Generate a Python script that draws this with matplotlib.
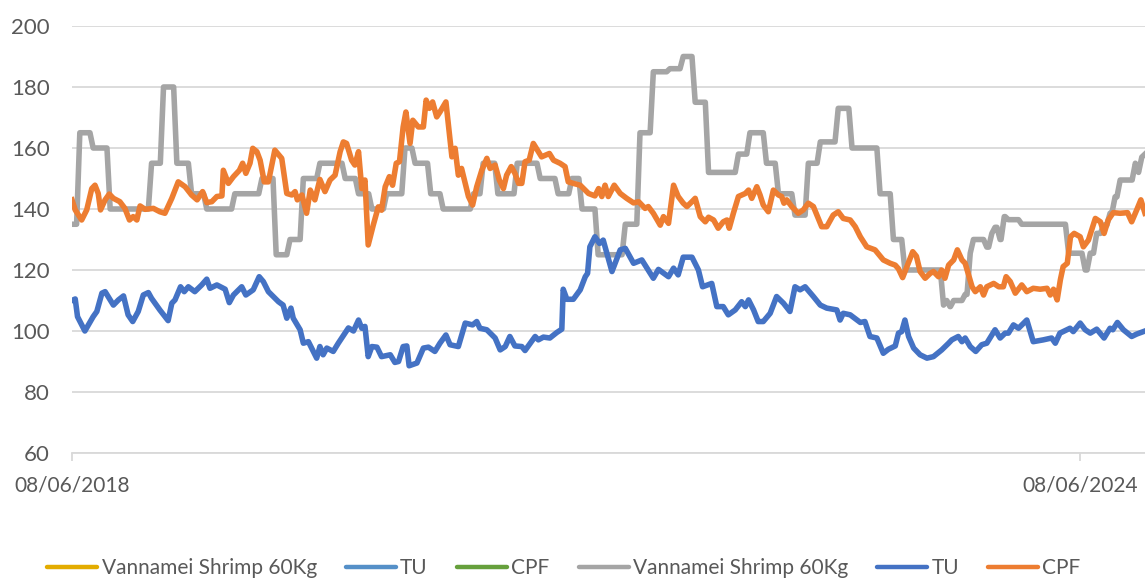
import matplotlib
matplotlib.use("Agg")
import matplotlib.pyplot as plt
from matplotlib.lines import Line2D
import pandas as pd
import numpy as np

plt.rcParams['font.family'] = ['Lato', 'DejaVu Sans']

start_date = '2018-06-08'
tick_days = [0, 2192]
tick_labels = ['08/06/2018', '08/06/2024']
y_ticks = [60, 80, 100, 120, 140, 160, 180, 200]

# Vannamei Shrimp 60Kg (step changes: day offset, value)
shrimp_day = [0, 17, 46, 83, 173, 199, 228, 260, 293, 354,
              413, 444, 474, 503, 539, 594, 623, 652, 684, 724,
              746, 780, 807, 873, 894, 926, 968, 1018, 1057, 1087,
              1109, 1144, 1203, 1235, 1264, 1300, 1329, 1355, 1384, 1449,
              1474, 1510, 1536, 1572, 1601, 1627, 1666, 1696, 1757, 1786,
              1811, 1895, 1902, 1909, 1917, 1942, 1953, 1960, 1989, 2000,
              2007, 2018, 2027, 2036, 2065, 2167, 2203, 2214, 2228, 2243,
              2257, 2268, 2279, 2312, 2319, 2326, 2333]
shrimp_val = [135, 165, 160, 140, 155, 180, 155, 145, 140, 145,
              150, 125, 130, 150, 155, 150, 145, 140, 145, 160,
              155, 145, 140, 145, 155, 145, 155, 150, 145, 150,
              140, 125, 135, 165, 185, 186, 190, 175, 152, 158,
              165, 155, 145, 138, 155, 162, 173, 160, 145, 130,
              120, 108.5, 110, 108, 110, 112, 125.5, 130, 127.5, 132,
              134, 130, 137.5, 136.5, 135, 125.5, 120, 125.5, 132, 134.7,
              138.6, 144, 149.5, 155, 152, 157, 158]

# TU
tu_day = [0, 7, 12, 28, 46, 54, 65, 72, 90, 101, 112, 122, 132, 144, 155, 166, 173,
          191, 209, 217, 224, 236, 244, 253, 267, 282, 293, 300, 315, 333, 342, 351,
          369, 378, 394, 407, 416, 427, 449, 459, 467, 476, 481, 496, 503, 514, 532,
          539, 546, 554, 568, 579, 590, 601, 612, 623, 630, 637, 644, 652, 663, 673,
          692, 702, 710, 720, 728, 733, 750, 764, 775, 789, 800, 813, 822, 840, 855,
          871, 880, 887, 902, 920, 931, 942, 952, 963, 978, 985, 1007, 1014, 1025,
          1039, 1054, 1065, 1068, 1076, 1090, 1105, 1116, 1121, 1126, 1134, 1137,
          1147, 1155, 1174, 1192, 1203, 1221, 1239, 1264, 1275, 1297, 1308, 1318,
          1329, 1348, 1362, 1371, 1391, 1402, 1416, 1427, 1442, 1456, 1464, 1471,
          1482, 1492, 1503, 1518, 1532, 1547, 1561, 1572, 1583, 1594, 1612, 1627,
          1641, 1663, 1670, 1677, 1692, 1714, 1724, 1735, 1750, 1764, 1775, 1790,
          1797, 1804, 1811, 1819, 1830, 1844, 1859, 1873, 1891, 1906, 1913, 1927,
          1935, 1942, 1953, 1965, 1978, 1989, 2007, 2018, 2029, 2036, 2047, 2058,
          2076, 2090, 2112, 2130, 2138, 2148, 2170, 2177, 2192, 2203, 2214, 2228,
          2244, 2257, 2263, 2273, 2286, 2304, 2315, 2333]
tu_val = [110, 110.5, 104.7, 100, 104.7, 106.4, 112.4, 112.9, 108.5, 110.2, 111.5, 105.3,
          103.1, 106.4, 111.8, 112.6, 110.7, 106.9, 103.4, 109.1, 110.2, 114.5, 112.9,
          114.5, 112.9, 115.1, 117, 114, 115.1, 113.7, 109.3, 111.8, 114.5, 111.8, 113.5,
          117.8, 116.2, 112.9, 109.6, 108.5, 104.2, 107.5, 104.2, 100.4, 96, 96.5, 91.1,
          94.9, 92.2, 94.4, 93.3, 96, 98.5, 101, 100, 103.6, 100.9, 101.5, 91.6, 94.9,
          94.7, 91.6, 92.2, 89.7, 90, 94.9, 95.1, 88.6, 89.5, 94.4, 94.7, 93.3, 96, 98.7,
          95.5, 94.9, 102.6, 102, 103.1, 100.9, 100.4, 97.7, 93.8, 94.9, 98.2, 95.1, 94.9,
          93.6, 98.2, 97.1, 98, 97.7, 99.5, 100.6, 113.7, 110.4, 110.4, 113.5, 117.8,
          118.9, 127.6, 130, 130.9, 128.7, 129.8, 119.5, 126.6, 127.1, 122.2, 123.3,
          117.3, 120.2, 117.8, 120.6, 118.4, 124.2, 124.2, 120, 114.5, 115.6, 108, 108,
          105.3, 106.9, 109.6, 108, 110.2, 106.9, 103.1, 103.1, 105.8, 111.3, 109.1,
          106.4, 114.5, 113.5, 114.5, 111.3, 108.5, 107.5, 106.9, 103.6, 105.8, 105.3,
          102.8, 103.1, 98.2, 97.7, 92.7, 94, 95.1, 99.3, 99.8, 103.6, 98.2, 94.4, 92.2,
          91.1, 91.6, 93.8, 96, 97.1, 98.2, 96.5, 97.7, 94.9, 93.3, 95.5, 96, 100.4, 97.7,
          99.3, 99.3, 102, 100.9, 103.6, 96.5, 97.1, 97.7, 96, 99.3, 100.9, 99.8, 102.6,
          100.4, 99.3, 100.6, 97.7, 100.9, 100.4, 102.8, 100.4, 98.2, 99, 100]

# CPF
cpf_day = [0, 7, 21, 32, 43, 50, 57, 62, 72, 81, 90, 104, 115, 125, 133, 141, 148, 159,
           177, 191, 202, 217, 231, 246, 260, 272, 284, 293, 304, 315, 326, 329, 340,
           351, 364, 371, 378, 387, 393, 402, 409, 418, 427, 441, 456, 467, 478, 485,
           490, 500, 510, 518, 528, 539, 550, 561, 572, 583, 590, 597, 608, 615, 623,
           630, 637, 644, 655, 666, 673, 681, 690, 697, 705, 712, 720, 726, 735, 741,
           753, 764, 770, 777, 784, 793, 800, 813, 826, 833, 840, 847, 862, 871, 880,
           891, 902, 909, 920, 929, 938, 945, 955, 963, 971, 978, 985, 994, 1003, 1014,
           1021, 1038, 1047, 1061, 1072, 1079, 1090, 1105, 1123, 1137, 1145, 1152, 1159,
           1166, 1179, 1192, 1206, 1221, 1232, 1246, 1253, 1264, 1279, 1286, 1297, 1308,
           1318, 1329, 1337, 1348, 1355, 1366, 1377, 1384, 1395, 1405, 1416, 1424, 1429,
           1438, 1449, 1464, 1471, 1478, 1489, 1496, 1503, 1514, 1525, 1536, 1543, 1548,
           1554, 1565, 1579, 1590, 1601, 1612, 1630, 1641, 1655, 1666, 1677, 1692, 1703,
           1714, 1728, 1746, 1764, 1779, 1790, 1797, 1806, 1815, 1828, 1836, 1844, 1855,
           1866, 1873, 1884, 1891, 1898, 1906, 1917, 1925, 1935, 1942, 1957, 1964, 1975,
           1982, 1989, 2004, 2015, 2025, 2031, 2040, 2051, 2065, 2076, 2090, 2105, 2120,
           2127, 2134, 2142, 2149, 2155, 2164, 2171, 2179, 2192, 2199, 2210, 2225, 2236,
           2244, 2253, 2264, 2279, 2295, 2304, 2315, 2324, 2333]
cpf_val = [143, 139.7, 136.4, 139.7, 146.7, 147.8, 145.1, 139.7, 143, 144.9, 143.5, 142.4,
           140.2, 136.4, 137.5, 136.4, 141, 139.9, 140.2, 139.1, 138.6, 143.5, 148.9,
           147.3, 144.6, 143, 145.7, 142.1, 142.4, 144.1, 144.3, 152.7, 148.4, 150.6,
           152.7, 155, 151.7, 155, 159.9, 158.8, 156, 148.9, 148.9, 159.3, 156.6, 145.1,
           144.6, 145.7, 143, 144.6, 138.6, 146.2, 143, 149.7, 145.7, 149.5, 151.1, 158.8,
           162, 161.5, 156, 154.4, 158.8, 146.7, 149.5, 128.2, 134.7, 140.7, 139.6, 147.3,
           150.6, 147.8, 155, 155.5, 166.9, 171.8, 161.5, 169.1, 166.9, 166.9, 175.7, 173,
           175.1, 170.2, 171.8, 175.1, 157.1, 159.9, 151.1, 153.3, 144.1, 141.3, 147.3,
           152.7, 156.6, 153.3, 154.4, 149.5, 146.7, 151.1, 153.9, 151.7, 148.4, 148.4,
           155.5, 156, 161.5, 158.8, 157.1, 158.2, 156, 155, 153.9, 148.9, 148.4, 147.8,
           145.1, 144.3, 146.7, 144.1, 147.8, 144.1, 147.8, 145.1, 143.5, 142, 142.4,
           140.2, 140.8, 138.6, 134.7, 137.5, 135.3, 147.8, 144.1, 141.9, 140.8, 142.4,
           143.5, 137.5, 135.8, 137.3, 136.4, 133.7, 135.8, 136.4, 133.7, 138.6, 144.1,
           145.1, 146.2, 143.5, 147.3, 144.6, 141.3, 139.1, 146.2, 144.6, 144.1, 141.9,
           143, 140.8, 138.6, 139.7, 141.9, 140.8, 134.2, 134.2, 138, 139.1, 136.9, 136.4,
           134.2, 130.9, 127.6, 126.6, 123.3, 122.2, 121.6, 120.4, 117.5, 121, 126, 124.5,
           119.5, 117.3, 118.9, 119.5, 117.8, 120, 117.3, 121.6, 123.3, 126.6, 123.3,
           122.2, 114.5, 112.9, 114.5, 111.8, 114.5, 115.6, 114.5, 114.5, 117.8, 116.2,
           112.4, 115.1, 112.9, 114, 113.7, 114, 111.8, 113.7, 110.2, 116.8, 121.1, 122.2,
           130.9, 132, 130.9, 127.6, 129.8, 136.9, 135.8, 132, 136.4, 138.8, 138.6, 138.8,
           135.8, 139.7, 143, 138.6]

legend_labels = ['Vannamei Shrimp 60Kg', 'TU', 'CPF', 'Vannamei Shrimp 60Kg', 'TU', 'CPF']
legend_colors = ['#E3AC00', '#5590C8', '#66A03C', '#A5A5A5', '#4472C4', '#ED7D31']

t0 = pd.Timestamp(start_date)
def to_dates(days):
    return t0 + pd.to_timedelta(np.asarray(days, dtype=float), unit='D')

# step series drawn with one-week transitions (weekly data)
sx, sy = [], []
for i, (d, v) in enumerate(zip(shrimp_day, shrimp_val)):
    sx.append(d); sy.append(v)
    if i + 1 < len(shrimp_day) and shrimp_day[i + 1] - 7 > d:
        sx.append(shrimp_day[i + 1] - 7); sy.append(v)

fig = plt.figure(figsize=(11.45, 5.79), dpi=100)
ax = fig.add_axes([72 / 1145, 1 - 453 / 579, 1 - 72 / 1145, (453 - 26) / 579])

lw = 4.0
ax.plot(to_dates(sx), sy, color='#A5A5A5', lw=lw, solid_joinstyle='round', zorder=3)
ax.plot(to_dates(tu_day), tu_val, color='#4472C4', lw=lw, solid_joinstyle='round', zorder=4)
ax.plot(to_dates(cpf_day), cpf_val, color='#ED7D31', lw=lw, solid_joinstyle='round', zorder=5)

ax.set_ylim(60, 200)
ax.set_yticks(y_ticks)
ax.set_xlim(to_dates([0])[0], to_dates([2333])[0])
ax.set_xticks(to_dates(tick_days))
ax.set_xticklabels(tick_labels)

ax.grid(axis='y', color='#D9D9D9', lw=1.3, zorder=0)
ax.set_axisbelow(True)
for s in ['top', 'right', 'left']:
    ax.spines[s].set_visible(False)
ax.spines['bottom'].set_color('#D9D9D9')
ax.spines['bottom'].set_linewidth(1.3)
ax.tick_params(axis='y', length=0, pad=16, labelsize=16, labelcolor='#595959')
ax.tick_params(axis='x', length=6, width=1.3, color='#D9D9D9', pad=10,
               labelsize=15, labelcolor='#595959')

handles = [Line2D([], [], color=c, lw=3.2, solid_capstyle='round') for c in legend_colors]
fig.legend(handles, legend_labels, loc='center', bbox_to_anchor=(564 / 1145, 1 - 568 / 579),
           ncol=6, frameon=False, fontsize=15, labelcolor='#595959',
           handlelength=2.4, handletextpad=0.2, columnspacing=1.4, borderaxespad=0)

fig.savefig('out.png', dpi=100)
